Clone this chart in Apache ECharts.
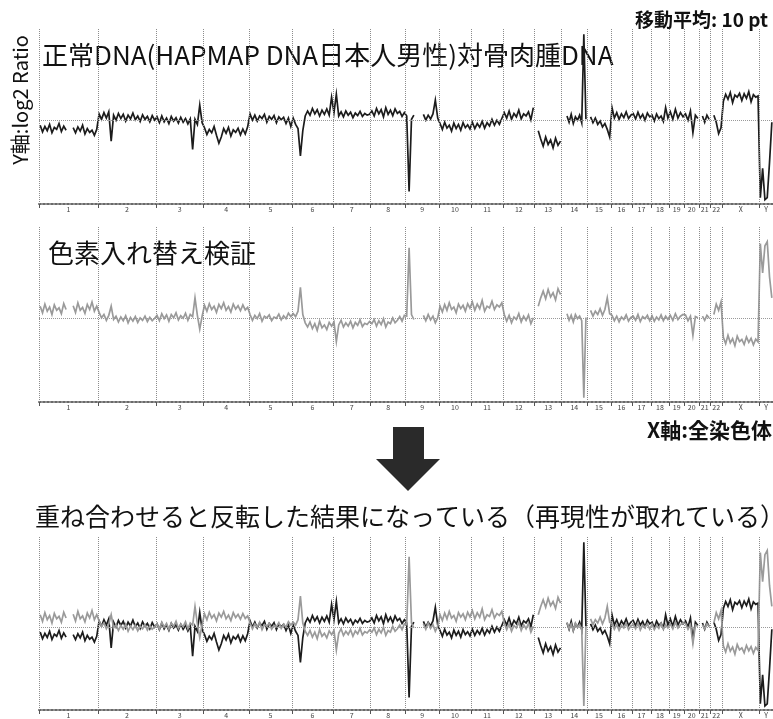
<!DOCTYPE html>
<html><head><meta charset="utf-8">
<script src="https://cdn.jsdelivr.net/npm/echarts@6/dist/echarts.min.js"></script>
<style>html,body{margin:0;padding:0;background:#fff}#c{width:773px;height:719px}</style>
</head><body><div id="c"></div>
<script>
// ---- data ----
const chromNames = ['1','2','3','4','5','6','7','8','9','10','11','12','13','14','15','16','17','18','19','20','21','22','X','Y'];
const chromLengthsMb = [247,243,199,191,181,171,159,146,140,135,134,132,114,106,100,89,79,76,64,62,47,50,155,58];

// log2 ratio, 10-pt moving average, tumour vs normal (HapMap Japanese male), one list per chromosome
const tumorVsNormal = [
 [-0.12,-0.28,-0.15,-0.25,-0.10,-0.30,-0.17,-0.22,-0.08,-0.27,-0.14,-0.24,null,null,-0.18,-0.30,-0.16,-0.26,-0.12,-0.33,-0.20,-0.29,-0.24,-0.36,-0.22],
 [0.15,0.02,0.18,0.05,0.20,-0.50,0.12,0.00,0.16,0.04,0.14,-0.02,0.12,0.03,0.17,0.01,0.10,-0.03,0.13,0.02,0.09,-0.04,0.11,0.00],
 [0.08,-0.06,0.10,-0.04,0.05,-0.08,0.09,-0.02,0.06,-0.07,0.07,-0.05,0.04,-0.09,0.03,-0.70,0.02,-0.10,0.36,-0.06],
 [-0.18,-0.34,-0.22,-0.30,-0.15,-0.36,-0.55,-0.40,-0.20,-0.31,-0.17,-0.38,-0.23,-0.29,-0.19,-0.35,-0.21,-0.33,-0.16],
 [0.15,0.00,0.12,-0.02,0.10,0.04,0.14,-0.05,0.09,0.02,0.11,-0.06,0.08,0.01,0.07,-0.08,0.05,-0.15],
 [0.05,-0.10,-0.20,-0.85,-0.25,0.10,0.22,0.12,0.28,0.15,0.25,0.10,0.24,0.14,0.27,0.12,0.55],
 [0.18,0.62,0.10,0.20,0.08,0.22,0.12,0.19,0.06,0.17,0.11,0.21,0.09,0.16,0.12,0.14],
 [0.22,0.10,0.28,0.15,0.25,0.08,0.30,0.14,0.24,0.11,0.27,0.16,0.21,0.09,0.18],
 [0.10,-1.70,0.02,0.12,null,null,null,0.14,0.00,0.12,0.03,0.15,0.48,0.05],
 [-0.08,-0.22,-0.05,-0.19,-0.12,-0.26,-0.07,-0.20,-0.10,-0.24,-0.06,-0.18,-0.11,-0.21],
 [-0.05,-0.20,-0.08,-0.17,-0.03,-0.19,-0.06,-0.14,0.02,-0.12,0.00,-0.10,0.04],
 [0.18,0.05,0.22,0.02,0.16,0.08,0.24,0.03,0.15,0.10,0.20,0.01,0.30],
 [null,-0.25,-0.45,-0.62,-0.40,-0.58,-0.47,-0.66,-0.43,-0.60,-0.50],
 [null,null,0.10,-0.05,0.14,-0.08,0.08,0.00,0.12,-0.06,2.05,0.02],
 [null,0.08,-0.06,0.05,-0.10,-0.02,-0.16,-0.08,-0.22,-0.40],
 [0.30,0.05,0.18,0.02,0.15,0.06,0.20,0.04,0.12],
 [0.16,0.03,0.19,0.05,0.14,0.00,0.17,0.08],
 [0.12,-0.02,0.15,0.04,0.10,-0.03,0.30,0.05],
 [0.20,0.02,0.26,0.05,0.18,0.08],
 [0.15,0.00,0.22,-0.30,0.12,0.04],
 [null,0.10,-0.05,0.12,0.02],
 [null,0.12,-0.05,-0.32,-0.18],
 [0.45,0.62,0.50,0.66,0.42,0.60,0.55,0.64,0.47,0.63,0.52,0.68,0.44,0.61,0.55,0.58],
 [-1.85,-1.15,-1.90,-1.85,-1.00,-0.05]
];

// dye-swap experiment
const dyeSwap = [
 [0.30,0.14,0.35,0.18,0.28,0.10,0.33,0.20,0.26,0.12,0.36,0.22,null,null,0.31,0.15,0.38,0.20,0.27,0.13,0.34,0.22,0.40,0.18,0.30],
 [0.15,0.02,0.10,-0.04,0.08,0.30,-0.02,0.06,-0.08,0.04,-0.05,0.07,-0.10,0.03,-0.06,0.05,-0.09,0.02,-0.04,0.06,-0.07,0.03,-0.05,0.01],
 [0.08,-0.05,0.12,0.00,0.09,-0.06,0.10,0.02,0.14,-0.03,0.07,0.01,0.13,-0.04,0.10,0.05,0.50,0.08,-0.25,0.06],
 [0.32,0.18,0.36,0.22,0.30,0.15,0.34,0.24,0.38,0.20,0.29,0.16,0.35,0.23,0.31,0.19,0.33,0.21,0.27],
 [0.10,-0.04,0.08,0.00,0.12,-0.06,0.06,0.02,0.09,-0.05,0.04,0.01,0.11,-0.03,0.07,0.00,0.13,0.05],
 [0.12,0.05,0.18,0.75,0.10,-0.10,-0.20,-0.08,-0.24,-0.12,-0.28,-0.06,-0.22,-0.15,-0.26,-0.09,-0.18],
 [-0.08,-0.55,-0.15,-0.04,-0.20,-0.10,-0.18,-0.06,-0.22,-0.09,-0.16,-0.03,-0.19,-0.11,-0.14,-0.07],
 [-0.12,-0.02,-0.18,-0.05,-0.14,0.00,-0.20,-0.08,-0.12,0.02,-0.10,-0.04,0.05,-0.06,0.08],
 [0.06,1.70,0.10,-0.02,null,null,null,0.08,-0.05,0.10,-0.03,0.06,-0.10,0.02],
 [0.30,0.16,0.34,0.20,0.38,0.22,0.28,0.14,0.35,0.24,0.32,0.18,0.36,0.25],
 [0.40,0.20,0.35,0.24,0.44,0.18,0.30,0.26,0.42,0.22,0.33,0.28,0.38],
 [0.10,-0.06,0.08,-0.10,0.04,-0.02,0.12,-0.08,0.06,-0.04,0.09,-0.12,0.02],
 [null,0.30,0.50,0.66,0.48,0.70,0.52,0.62,0.45,0.72,0.58],
 [null,null,0.12,-0.04,0.08,-0.08,0.10,0.00,0.06,-0.05,-1.90,0.03],
 [null,0.20,0.06,0.18,0.10,0.24,0.08,0.22,0.50,0.12],
 [0.08,-0.05,0.06,-0.08,0.04,-0.02,0.09,-0.06,0.03],
 [0.06,-0.04,0.10,-0.07,0.05,0.00,0.08,-0.05],
 [0.07,-0.06,0.04,-0.03,0.09,-0.05,0.06,-0.02],
 [0.08,-0.04,0.12,-0.02,0.06,0.10],
 [0.09,-0.05,0.06,-0.40,0.05,0.02],
 [null,0.06,-0.04,0.08,0.02],
 [null,0.10,0.35,0.20,0.40],
 [-0.45,-0.60,-0.40,-0.58,-0.48,-0.65,-0.42,-0.55,-0.50,-0.62,-0.44,-0.57,-0.47,-0.63,-0.49,-0.56],
 [1.80,1.10,1.75,1.85,1.00,0.50]
];

const title1 = '正常DNA(HAPMAP DNA日本人男性)対骨肉腫DNA';
const title2 = '色素入れ替え検証';
const title3 = '重ね合わせると反転した結果になっている（再現性が取れている）';
const movingAvgNote = '移動平均: 10 pt';
const yAxisName = 'Y軸:log2 Ratio';
const xAxisName = 'X軸:全染色体';

// ---- build ----
const starts = [];
let acc = 0;
chromLengthsMb.forEach(l => { starts.push(acc); acc += l; });
const genomeLen = acc;
const centers = starts.map((s, i) => s + chromLengthsMb[i] / 2);

function toPoints(trace) {
  const pts = [];
  trace.forEach((vals, c) => {
    const n = vals.length, s = starts[c], L = chromLengthsMb[c];
    vals.forEach((v, i) => pts.push([s + (i + 0.5) * L / n, v]));
  });
  return pts;
}
const blackPts = toPoints(tumorVsNormal);
const grayPts = toPoints(dyeSwap);

const FONT = '"Noto Sans CJK JP", "Noto Sans", sans-serif';
const grids = [
  {left: 39, width: 734, top: 28, height: 176},
  {left: 39, width: 734, top: 227, height: 175},
  {left: 39, width: 734, top: 536, height: 176}
];

const xAxes = grids.map((g, k) => ({
  type: 'value', gridIndex: k, min: 0, max: genomeLen,
  axisLine: {show: true, onZero: false, lineStyle: {color: '#6a6a6a', width: 2, type: 'dotted'}},
  axisTick: {show: true, customValues: starts, length: 4, lineStyle: {color: '#555', width: 1}},
  axisLabel: {show: true, customValues: centers, fontSize: 7, color: '#444', margin: 2, fontFamily: FONT,
    formatter: v => { let b = 0, d = 1e9; centers.forEach((c, i) => { if (Math.abs(c - v) < d) { d = Math.abs(c - v); b = i; } }); return chromNames[b]; }},
  splitLine: {show: false}
}));
const yAxes = grids.map((g, k) => ({type: 'value', gridIndex: k, min: -2, max: 2.2, show: false}));

function guideSeries(k) {
  return {
    type: 'line', xAxisIndex: k, yAxisIndex: k, data: [[0, 0]], symbol: 'none',
    lineStyle: {opacity: 0}, silent: true, z: 1, animation: false,
    markLine: {
      silent: true, symbol: ['none', 'none'], animation: false, label: {show: false},
      lineStyle: {color: '#8c8c8c', type: 'dotted', width: 1},
      data: starts.map(s => ({xAxis: s})).concat([{yAxis: 0, lineStyle: {color: '#999', type: 'dotted', width: 1}}])
    }
  };
}
function traceSeries(k, pts, color, z) {
  return {type: 'line', xAxisIndex: k, yAxisIndex: k, data: pts, symbol: 'none', showSymbol: false,
    connectNulls: false, animation: false, silent: true, z: z,
    lineStyle: {color: color, width: 1.7, join: 'miter'}};
}

const BLACK = '#1c1c1c', GRAY = '#9a9a9a';
const option = {
  backgroundColor: '#fff',
  animation: false,
  grid: grids,
  xAxis: xAxes,
  yAxis: yAxes,
  series: [
    guideSeries(0), guideSeries(1), guideSeries(2),
    traceSeries(0, blackPts, BLACK, 3),
    traceSeries(1, grayPts, GRAY, 3),
    traceSeries(2, blackPts, BLACK, 3),
    traceSeries(2, grayPts, GRAY, 4)
  ],
  graphic: [
    {type: 'text', x: 768, y: 20, style: {text: movingAvgNote, fontSize: 19, fontWeight: 'bold', fontFamily: FONT, fill: '#111', textAlign: 'right', textVerticalAlign: 'middle'}},
    {type: 'text', x: 20, y: 100, rotation: Math.PI / 2, style: {text: yAxisName, fontSize: 20, fontFamily: FONT, fill: '#111', textAlign: 'center', textVerticalAlign: 'middle'}},
    {type: 'text', x: 42, y: 55, style: {text: title1, fontSize: 26, fontFamily: FONT, fill: '#111', textAlign: 'left', textVerticalAlign: 'middle'}},
    {type: 'text', x: 48, y: 253, style: {text: title2, fontSize: 26, fontFamily: FONT, fill: '#111', textAlign: 'left', textVerticalAlign: 'middle'}},
    {type: 'text', x: 772, y: 430, style: {text: xAxisName, fontSize: 21, fontWeight: 'bold', fontFamily: FONT, fill: '#111', textAlign: 'right', textVerticalAlign: 'middle'}},
    {type: 'polygon', shape: {points: [[393,427],[424,427],[424,459],[440,459],[408,491],[376,459],[393,459]]}, style: {fill: '#2a2a2a'}},
    {type: 'text', x: 35, y: 516, style: {text: title3, fontSize: 25, fontFamily: FONT, fill: '#111', textAlign: 'left', textVerticalAlign: 'middle'}}
  ]
};
const chart = echarts.init(document.getElementById('c'), null, {renderer: 'canvas'});
chart.setOption(option);
</script>
</body></html>
